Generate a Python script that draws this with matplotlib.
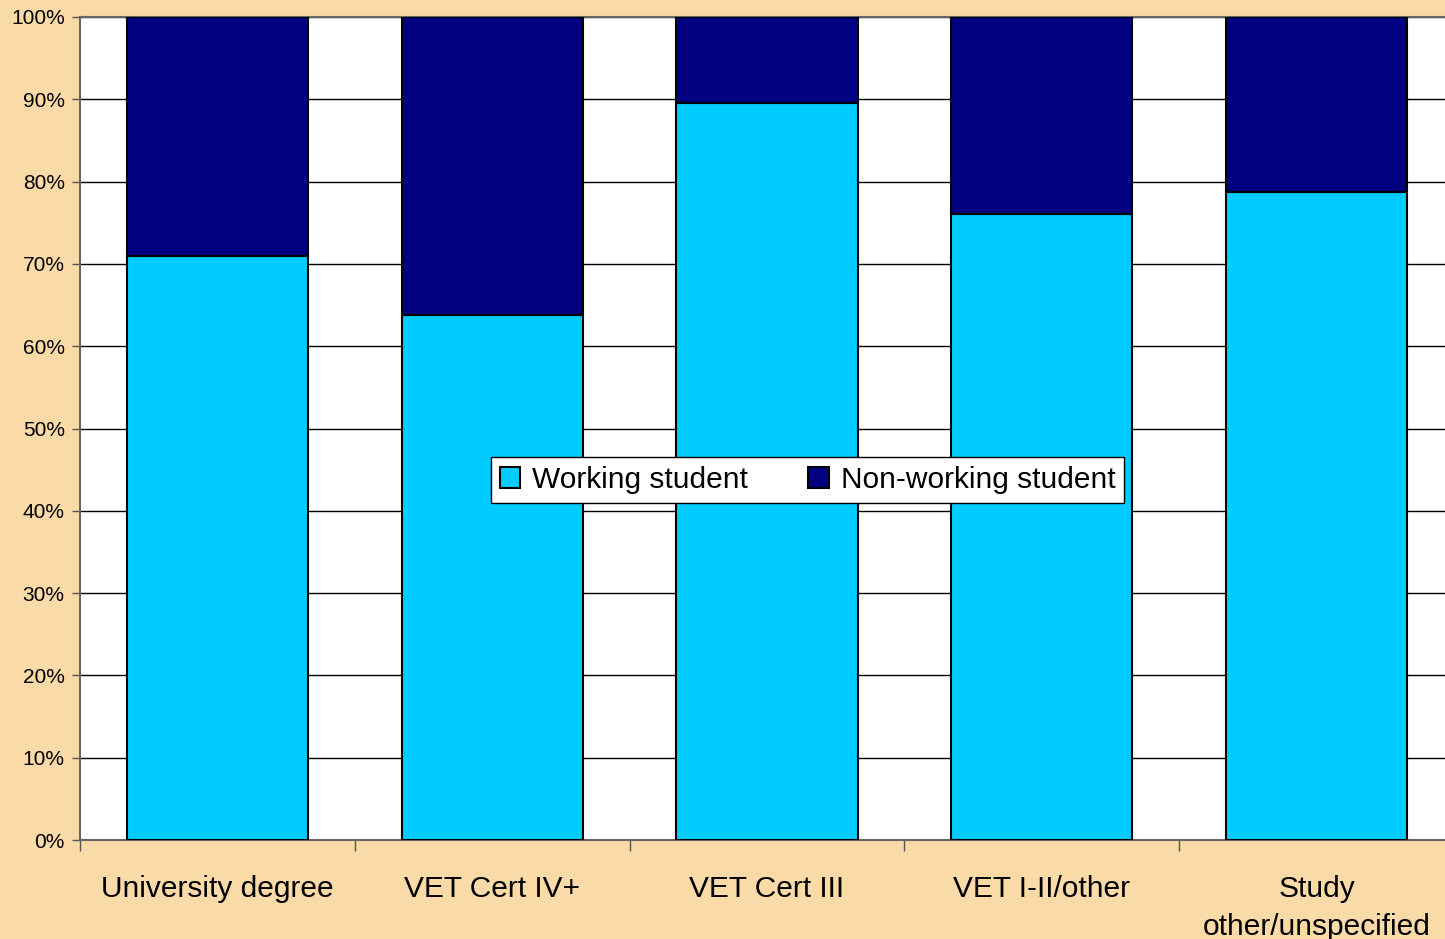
#!/usr/bin/env python

import matplotlib
matplotlib.use('Agg')
import matplotlib.pyplot as plt
from matplotlib.ticker import FixedLocator, PercentFormatter

categories = ['University degree', 'VET Cert IV+', 'VET Cert III',
              'VET I-II/other', 'Study\nother/unspecified']
working = [70.9, 63.8, 89.6, 76.1, 78.7]
non_working = [100 - w for w in working]

BG = '#FADAA6'
LIGHT = '#00CCFF'
DARK = '#000080'


def main():
    plt.rcParams['font.family'] = ['Liberation Sans', 'DejaVu Sans']

    fig = plt.figure(figsize=(14.45, 9.39), dpi=100)
    fig.patch.set_facecolor(BG)

    # the plot area runs a little past the right edge of the picture
    ax = fig.add_axes([80 / 1445, 99 / 939, 1374 / 1445, 823 / 939])
    ax.set_facecolor('white')

    x = range(len(categories))
    ax.bar(x, working, width=0.66, color=LIGHT, edgecolor='black',
           linewidth=1.5, label='Working student', zorder=3)
    ax.bar(x, non_working, width=0.66, bottom=working, color=DARK,
           edgecolor='black', linewidth=1.5, label='Non-working student', zorder=3)

    ax.set_xlim(-0.5, len(categories) - 0.5)
    ax.set_ylim(0, 100)

    ax.set_yticks(range(0, 101, 10))
    ax.yaxis.set_major_formatter(PercentFormatter(decimals=0))
    ax.yaxis.grid(True, color='black', linewidth=1.0, zorder=1)
    ax.tick_params(axis='y', length=6, width=1, color='#555555',
                   labelsize=15, pad=5)

    ax.set_xticks(list(x))
    ax.set_xticklabels(categories, fontsize=21.5, linespacing=1.45)
    ax.tick_params(axis='x', which='major', length=0, pad=25)
    ax.xaxis.set_minor_locator(FixedLocator([i - 0.5 for i in range(len(categories) + 1)]))
    ax.tick_params(axis='x', which='minor', length=8, width=1, color='#555555')

    for side in ('left', 'bottom', 'top'):
        ax.spines[side].set_color('#666666')
        ax.spines[side].set_linewidth(1.5)
    ax.spines['right'].set_visible(False)

    leg = ax.legend(ncol=2, loc='center', bbox_to_anchor=(727.5 / 1374, 0.4375),
                    fontsize=21.5, frameon=True, fancybox=False, edgecolor='black',
                    framealpha=1, handlelength=0.7, handleheight=0.7,
                    handletextpad=0.4, columnspacing=2.0, borderpad=0.3)
    leg.get_frame().set_linewidth(1.0)
    leg.set_zorder(5)

    plt.savefig('out.png', dpi=100, facecolor=BG)
    plt.close()


if __name__ == '__main__':
    main()
